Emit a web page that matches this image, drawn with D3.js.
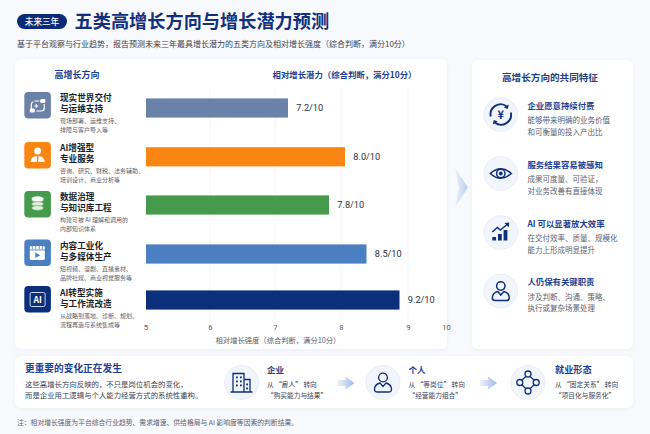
<!DOCTYPE html>
<html lang="zh">
<head>
<meta charset="utf-8">
<script src="https://cdn.jsdelivr.net/npm/d3@7/dist/d3.min.js"></script>
<style>
html,body{margin:0;padding:0;background:#f8f9fd;}
svg{display:block;font-family:"Noto Sans CJK SC","Noto Sans",sans-serif;}
</style>
</head>
<body>
<svg id="chart" width="650" height="434"></svg>
<script>
// Chart values and copy
const directionTitles = [
  ["现实世界交付", "与运维支持"],
  ["AI增强型", "专业服务"],
  ["数据治理", "与知识库工程"],
  ["内容工业化", "与多媒体生产"],
  ["AI转型实施", "与工作流改造"]
];
const directionNotes = [
  ["现场部署、运维支持、", "排障与客户导入等"],
  ["咨询、研究、财税、法务辅助、", "培训设计、商业分析等"],
  ["构建可被 AI 理解和调用的", "内部知识体系"],
  ["短视频、漫剧、直播素材、", "品牌社媒、商业视觉服务等"],
  ["从战略到落地、诊断、规划、", "流程再造与系统集成等"]
];
const potentialValues = [7.2, 8.0, 7.8, 8.5, 9.2];
const barColors = ["#6b82a8", "#fb8512", "#459a4c", "#4a7fc1", "#0c2f7c"];
const axisTicks = [5, 6, 7, 8, 9, 10];
const tickPositions = [145.5, 210, 275, 341, 408, 446];
const gridTicks = [6, 7, 8, 9];
const barValueStops = [5, 7.2, 7.8, 8, 8.5, 9.2];
const barPixelStops = [146, 288, 329, 345, 366.5, 399.5];
const traitTitles = ["企业愿意持续付费", "服务结果容易被感知", "AI 可以显著放大效率", "人仍保有关键职责"];
const traitNotes = [
  ["能够带来明确的业务价值", "和可衡量的投入产出比"],
  ["成果可度量、可验证\uFF0C", "对业务改善有直接体现"],
  ["在交付效率、质量、规模化", "能力上形成明显提升"],
  ["涉及判断、沟通、策略、", "执行或复杂场景处理"]
];
const shiftTitles = ["企业", "个人", "就业形态"];
const shiftNotes = [
  ["从 \u201C雇人\u201D 转向", "\u201C购买能力与结果\u201D"],
  ["从 \u201C等岗位\u201D 转向", "\u201C经营能力组合\u201D"],
  ["从 \u201C固定关系\u201D 转向", "\u201C项目化与服务化\u201D"]
];

const NAVY = "#0f2f7f", GREY = "#5c6270";
const svg = d3.select("#chart");
const defs = svg.append("defs");

const shadow = defs.append("filter").attr("id", "soft").attr("x", "-5%").attr("y", "-5%").attr("width", "110%").attr("height", "110%");
shadow.append("feDropShadow").attr("dx", 0).attr("dy", 1).attr("stdDeviation", 2).attr("flood-color", "#c9d4ea").attr("flood-opacity", 0.3);

const chevronFill = defs.append("linearGradient").attr("id", "chevron");
chevronFill.append("stop").attr("offset", "0").attr("stop-color", "#e9effa");
chevronFill.append("stop").attr("offset", "1").attr("stop-color", "#bccfee");
const flowFill = defs.append("linearGradient").attr("id", "flow");
flowFill.append("stop").attr("offset", "0").attr("stop-color", "#eef3fb");
flowFill.append("stop").attr("offset", "1").attr("stop-color", "#9db9e6");

function label(parent, x, y, text, size, fill, weight, anchor) {
  return parent.append("text").attr("x", x).attr("y", y).attr("font-size", size)
    .attr("fill", fill).attr("font-weight", weight || 400).attr("text-anchor", anchor || "start").text(text);
}
function card(x, y, w, h, r) {
  svg.append("rect").attr("x", x).attr("y", y).attr("width", w).attr("height", h).attr("rx", r)
    .attr("fill", "#fff").attr("filter", "url(#soft)");
}

// Header
svg.append("rect").attr("x", 17).attr("y", 14).attr("width", 50).attr("height", 15).attr("rx", 7.5).attr("fill", "#0c2b76");
label(svg, 42, 25, "未来三年", 8.6, "#fff", 500, "middle");
label(svg, 74.5, 27.5, "五类高增长方向与增长潜力预测", 18.2, "#12307c", 700);
label(svg, 17, 47, "基于平台观察与行业趋势\uFF0C报告预测未来三年最具增长潜力的五类方向及相对增长强度\uFF08综合判断\uFF0C满分10分\uFF09", 8, "#3c4352", 400);

// Panels
card(15, 59, 432, 290, 6);
card(472, 60, 161, 289, 6);
card(15, 356, 618, 52, 6);
svg.append("path").attr("d", "M455 168 L468 187.5 L455 207 L459 187.5 Z").attr("fill", "url(#chevron)");

label(svg, 77, 77.5, "高增长方向", 9, "#1f3f95", 700, "middle");
label(svg, 344.5, 77.5, "相对增长潜力\uFF08综合判断\uFF0C满分10分\uFF09", 8.4, "#1f3f95", 700, "middle");

// Scales: the ruler ticks and the bar lengths each follow their own stops
const axisScale = d3.scaleLinear().domain(axisTicks).range(tickPositions);
const barScale = d3.scaleLinear().domain(barValueStops).range(barPixelStops);
const barCentres = [108, 156.8, 205, 254, 300];

// Gridlines
svg.append("g").selectAll("line").data(gridTicks).join("line")
  .attr("x1", d => axisScale(d)).attr("x2", d => axisScale(d))
  .attr("y1", 88).attr("y2", 320).attr("stroke", "#eef1f7").attr("stroke-width", 0.8);

// Axis along the bottom of the bars
const axisG = svg.append("g").attr("transform", "translate(0,320)")
  .call(d3.axisBottom(axisScale).tickValues(axisTicks).tickSize(0).tickPadding(5).tickFormat(d3.format("d")));
axisG.select(".domain").remove();
axisG.selectAll("text").attr("font-size", 7.6).attr("fill", "#555c6b").attr("font-family", "Roboto, 'Noto Sans', sans-serif");
label(svg, 278, 343, "相对增长强度\uFF08综合判断\uFF0C满分10分\uFF09", 7.3, "#555c6b", 400, "middle");

// Bars
const rows = potentialValues.map((v, i) => ({v, i}));
svg.append("g").selectAll("rect").data(rows).join("rect")
  .attr("x", barScale(5)).attr("y", d => barCentres[d.i] - 9.6)
  .attr("width", d => barScale(d.v) - barScale(5)).attr("height", 19.2)
  .attr("fill", d => barColors[d.i]);
svg.append("g").selectAll("text").data(rows).join("text")
  .attr("x", d => barScale(d.v) + 8.3).attr("y", d => barCentres[d.i] + 3.4)
  .attr("font-size", 9.2).attr("fill", "#2a3040").attr("font-family", "Roboto, 'Noto Sans', sans-serif")
  .text(d => d.v.toFixed(1) + "/10");

// Row icons and descriptions
const iconTops = [92, 142, 191, 239.5, 286];
const textTops = [97, 147, 196, 245, 292];
const iconDraw = [
  g => { // delivery loop
    g.append("path").attr("d", "M10 9 H15 M7 17 V12.5 Q7 10 9 10 M20 12 V16 Q20 19 17 19 H12").attr("fill", "none").attr("stroke", "#fff").attr("stroke-width", 1.2);
    g.append("rect").attr("x", 16).attr("y", 7).attr("width", 5).attr("height", 4).attr("rx", 1.2).attr("fill", "#fff");
    g.append("rect").attr("x", 5.5).attr("y", 16.5).attr("width", 5).attr("height", 4).attr("rx", 1.2).attr("fill", "#fff");
    g.append("path").attr("d", "M12 12 V16 M10 14 H14").attr("stroke", "#fff").attr("stroke-width", 1);
  },
  g => { // people
    g.append("circle").attr("cx", 13.3).attr("cy", 9).attr("r", 3.4).attr("fill", "#fff");
    g.append("path").attr("d", "M6.3 20 Q6.3 14.2 12.6 14.2 V20 Z M14 14.2 Q20.3 14.2 20.3 20 H14 Z").attr("fill", "#fff");
  },
  g => { // database stack
    [8, 12, 16].forEach(y => {
      g.append("ellipse").attr("cx", 13.3).attr("cy", y + 1).attr("rx", 6).attr("ry", 2.4).attr("fill", "#dff0d9").attr("stroke", barColors[2]).attr("stroke-width", 0.5);
    });
    g.append("ellipse").attr("cx", 13.3).attr("cy", 7.6).attr("rx", 6).attr("ry", 2.4).attr("fill", "#fff");
  },
  g => { // clapper and play button
    g.append("rect").attr("x", 5.5).attr("y", 6.5).attr("width", 15).attr("height", 14).attr("rx", 1.5).attr("fill", "#fff");
    g.append("path").attr("d", "M5.5 10.5 H20.5").attr("stroke", barColors[3]).attr("stroke-width", 0.8);
    g.append("path").attr("d", "M8 6.5 V10 M11.5 6.5 V10 M15 6.5 V10 M18 6.5 V10").attr("stroke", barColors[3]).attr("stroke-width", 0.8);
    g.append("path").attr("d", "M11 13 L16 15.7 L11 18.4 Z").attr("fill", barColors[3]);
  },
  g => { // AI badge
    g.append("rect").attr("x", 5.8).attr("y", 6.5).attr("width", 15).attr("height", 14).attr("rx", 1.6).attr("fill", "none").attr("stroke", "#dce6f7").attr("stroke-width", 0.9);
    label(g, 13.3, 16.8, "AI", 8.6, "#fff", 700, "middle");
  }
];
rows.forEach(d => {
  const g = svg.append("g").attr("transform", `translate(24.3,${iconTops[d.i]})`);
  g.append("rect").attr("width", 26.6).attr("height", 26.6).attr("rx", 4).attr("fill", barColors[d.i]);
  iconDraw[d.i](g);
  const y = textTops[d.i];
  directionTitles[d.i].forEach((t, k) => label(svg, 60, y + 4 + k * 11, t, 8.6, "#1b1f2b", 700));
  directionNotes[d.i].forEach((t, k) => label(svg, 60, y + 25.5 + k * 9.4, t, 6, GREY, 400));
});

// Shared traits
function badge(cx, cy, r) {
  svg.append("circle").attr("cx", cx).attr("cy", cy).attr("r", r).attr("fill", "#f2f5fb").attr("stroke", "#e4eaf6").attr("stroke-width", 0.8);
  return svg.append("g").attr("transform", `translate(${cx},${cy})`)
    .attr("fill", "none").attr("stroke", NAVY).attr("stroke-width", 1.5);
}
label(svg, 550, 81, "高增长方向的共同特征", 9.6, "#1f3f85", 700, "middle");
const traitCy = [114.5, 173.5, 232.5, 291];
const traitDraw = [
  g => {
    g.append("path").attr("d", "M-10 2 A10 10 0 0 1 6 -8 M10 -2 A10 10 0 0 1 -6 8").attr("stroke-width", 1.9);
    g.append("path").attr("d", "M8 -10 L7 -5.5 L3 -7 Z M-8 10 L-7 5.5 L-3 7 Z").attr("fill", NAVY).attr("stroke", "none");
    label(g, 0, 4, "¥", 11, NAVY, 700, "middle").attr("stroke", "none");
  },
  g => {
    g.append("path").attr("d", "M-10.5 0 Q0 -9.5 10.5 0 Q0 9.5 -10.5 0 Z").attr("stroke-width", 1.6);
    g.append("circle").attr("r", 4.2).attr("stroke-width", 1.5);
    g.append("circle").attr("r", 1.9).attr("fill", NAVY).attr("stroke", "none");
  },
  g => {
    [[-8.5, 3, 3.5], [-2.8, 0, 6.5], [2.8, -4, 10.5]].forEach(b =>
      g.append("rect").attr("x", b[0]).attr("y", b[1] + 1.5).attr("width", 3.8).attr("height", b[2]).attr("fill", NAVY).attr("stroke", "none"));
    g.append("path").attr("d", "M-8.5 -0.5 L-3.5 -5 L-0.5 -2.5 L7 -8.5");
    g.append("path").attr("d", "M3.5 -9.5 L8.5 -10 L8 -5.2 Z").attr("fill", NAVY).attr("stroke", "none");
  },
  g => {
    g.append("circle").attr("cy", -5).attr("r", 4.2);
    g.append("path").attr("d", "M-3 0.5 Q-8.5 2 -8.5 7 Q-8.5 9.5 -5.5 9.5 H5.5 Q8.5 9.5 8.5 7 Q8.5 2 3 0.5 L0 4 Z");
  }
];
traitTitles.forEach((t, i) => {
  const g = badge(500.8, traitCy[i], 16.8);
  traitDraw[i](g);
  label(svg, 527.5, traitCy[i] - 6, t, 8.4, "#1f3f95", 700);
  traitNotes[i].forEach((n, k) => label(svg, 527.5, traitCy[i] + 8.5 + k * 11.8, n, 7.5, GREY, 400));
});

// Bottom strip
label(svg, 25, 372, "更重要的变化正在发生", 9.7, "#1f3f95", 700);
label(svg, 25, 387, "这些高增长方向反映的\uFF0C不只是岗位机会的变化\uFF0C", 7.4, "#3c4352", 400);
label(svg, 25, 398, "而是企业用工逻辑与个人能力经营方式的系统性重构。", 7.4, "#3c4352", 400);
const shiftCx = [241.5, 383, 528];
const shiftTextX = [267, 408.5, 555];
const shiftDraw = [
  g => {
    g.append("path").attr("d", "M-8.5 9 V-9 H2.5 V9 M2.5 -3 H8.5 V9 M-11 9.5 H11").attr("stroke-width", 1.3);
    [-6, -2, 2].forEach(y => [-5.5, -1.5].forEach(x => g.append("rect").attr("x", x).attr("y", y).attr("width", 1.8).attr("height", 1.8).attr("fill", NAVY).attr("stroke", "none")));
    [1, 5].forEach(y => g.append("rect").attr("x", 4.7).attr("y", y).attr("width", 1.8).attr("height", 1.8).attr("fill", NAVY).attr("stroke", "none"));
  },
  g => {
    g.append("circle").attr("cy", -5).attr("r", 4.4).attr("stroke-width", 1.3);
    g.append("path").attr("d", "M-3 0.5 Q-8.5 2 -8.5 7 Q-8.5 9.5 -5.5 9.5 H5.5 Q8.5 9.5 8.5 7 Q8.5 2 3 0.5 L0 4 Z").attr("stroke-width", 1.3);
  },
  g => {
    g.append("path").attr("d", "M-2.2 -6 L-6.5 -2 M2.2 -6 L6.5 -2 M-6.5 2 L-2.2 6 M6.5 2 L2.2 6").attr("stroke-width", 1.2);
    [[0, -8.5], [-8.2, 0], [8.2, 0], [0, 8.5]].forEach(p => g.append("circle").attr("cx", p[0]).attr("cy", p[1]).attr("r", 3).attr("stroke-width", 1.3));
  }
];
shiftTitles.forEach((t, i) => {
  const g = badge(shiftCx[i], 382.5, 17);
  shiftDraw[i](g);
  label(svg, shiftTextX[i], 373, t, i === 2 ? 9.2 : 8.5, "#1f3f95", 700);
  shiftNotes[i].forEach((n, k) => label(svg, shiftTextX[i], 387 + k * 10.6, n, 6.7, "#3c4352", 400));
});
[337.5, 480].forEach(x => svg.append("path").attr("transform", `translate(${x},383)`)
  .attr("d", "M0 -3 H8 V-6.5 L17 0 L8 6.5 V3 H0 Z").attr("fill", "url(#flow)"));

label(svg, 17, 424.5, "注\uFF1A相对增长强度为平台综合行业趋势、需求增速、供给格局与 AI 影响度等因素的判断结果。", 6.8, "#5c6270", 400);
</script>
</body>
</html>
